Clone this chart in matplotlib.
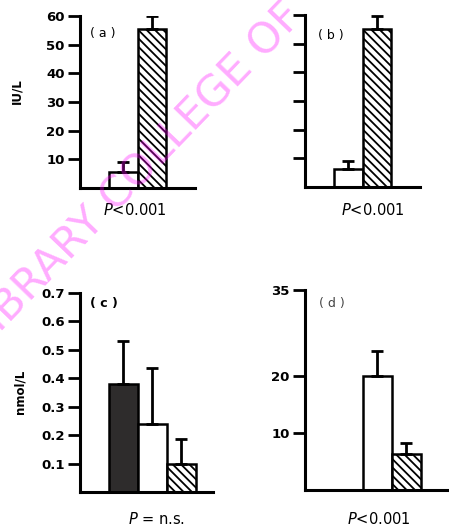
import math
import matplotlib
matplotlib.use("Agg")
import matplotlib.pyplot as plt

# ---- data ----
# panel (a): IU/L
a_vals = [5.5, 55.5]
a_errs = [3.7, 4.5]
a_pos = [1, 2]
a_fill = ["white", "hatch"]
# panel (b)
b_vals = [6.2, 55.0]
b_errs = [3.0, 4.8]
b_pos = [1, 2]
b_fill = ["white", "hatch"]
# panel (c): nmol/L
c_vals = [0.38, 0.24, 0.10]
c_errs = [0.15, 0.195, 0.085]
c_pos = [1, 2, 3]
c_fill = ["dark", "white", "hatch"]
# panel (d)
d_vals = [20.0, 6.3]
d_errs = [4.3, 1.9]
d_pos = [2, 3]
d_fill = ["white", "hatch"]

ab_ticks = [10, 20, 30, 40, 50, 60]
c_ticks = [0.1, 0.2, 0.3, 0.4, 0.5, 0.6, 0.7]
d_ticks = [10, 20, 35]

plt.rcParams["hatch.linewidth"] = 1.3
W, H = 449, 527
fig = plt.figure(figsize=(W / 100, H / 100), dpi=100)

def rect(l, r, bot, top):
    return [l / W, (H - bot) / H, (r - l) / W, (bot - top) / H]

def panel(ax, pos, vals, errs, fills, ylim, xlim, ticks, labels):
    for p, v, e, f in zip(pos, vals, errs, fills):
        if f == "dark":
            ax.bar(p, v, width=1, align="edge", color="#2e2c2c", edgecolor="black", linewidth=1.8, zorder=2)
        elif f == "white":
            ax.bar(p, v, width=1, align="edge", color="white", edgecolor="black", linewidth=1.8, zorder=2)
        else:
            ax.bar(p, v, width=1, align="edge", color="white", edgecolor="black", linewidth=1.8,
                   hatch="\\\\\\\\", zorder=2)
        ax.errorbar(p + 0.5, v, yerr=[[0], [e]], fmt="none", ecolor="black", elinewidth=2.0,
                    capsize=4.5, capthick=2.0, zorder=3)
    ax.set_xlim(*xlim)
    ax.set_ylim(*ylim)
    ax.set_facecolor("none")
    for s in ["top", "right"]:
        ax.spines[s].set_visible(False)
    ax.spines["left"].set_linewidth(2.2)
    ax.spines["bottom"].set_linewidth(2.2)
    ax.set_xticks([])
    ax.set_yticks(ticks)
    if labels:
        ax.set_yticklabels([str(t) for t in ticks])
    else:
        ax.set_yticklabels([])
    ax.tick_params(axis="y", length=9, width=2.0, pad=2, labelsize=9.5)
    for t in ax.get_yticklabels():
        t.set_fontweight("bold")

ax_a = fig.add_axes(rect(80, 195, 188, 16))
panel(ax_a, a_pos, a_vals, a_errs, a_fill, (0, 60), (0, 4), ab_ticks, True)
ax_b = fig.add_axes(rect(305, 420, 187, 15))
panel(ax_b, b_pos, b_vals, b_errs, b_fill, (0, 60), (0, 4), ab_ticks, False)
ax_c = fig.add_axes(rect(80, 213, 492, 293))
panel(ax_c, c_pos, c_vals, c_errs, c_fill, (0, 0.7), (0, 4.6), c_ticks, True)
ax_d = fig.add_axes(rect(305, 453, 490, 290))
panel(ax_d, d_pos, d_vals, d_errs, d_fill, (0, 35), (0, 5.12), d_ticks, True)

def ftext(x, y, s, **kw):
    fig.text(x / W, 1 - y / H, s, ha="center", va="center", **kw)

ftext(103, 33, "( a )", fontsize=9)
ftext(331, 36, "( b )", fontsize=9)
ftext(104, 303, "( c )", fontsize=9, fontweight="bold")
ftext(332, 303, "( d )", fontsize=9, color="#444444")
ftext(135, 210, "$P$<0.001", fontsize=10.5)
ftext(373, 210, "$P$<0.001", fontsize=10.5)
ftext(157, 519, "$P$ = n.s.", fontsize=10.5)
ftext(379, 519, "$P$<0.001", fontsize=10.5)
ftext(17, 91, "IU/L", fontsize=8.5, fontweight="bold", rotation=90)
ftext(20, 392, "nmol/L", fontsize=8.5, fontweight="bold", rotation=90)

# scan watermark: anchor so that the "B" sits at the left edge like the scan
wm_size = 31
wm_angle = 46
tmp = fig.text(0, 0, "LI", fontsize=wm_size)
fig.canvas.draw()
w_li = tmp.get_window_extent().width
tmp.remove()
bx, by = 9.0, 324.5  # baseline-left of "B" (pixels from top-left)
ca, sa = math.cos(math.radians(wm_angle)), math.sin(math.radians(wm_angle))
sx = bx - w_li * ca
sy = by + w_li * sa
fig.text(sx / W, 1 - sy / H, "LIBRARY COLLEGE OF", fontsize=wm_size, color="#ff00ff", alpha=0.33,
         rotation=wm_angle, ha="left", va="baseline", rotation_mode="anchor", zorder=10)

fig.savefig("out.png", dpi=100)
